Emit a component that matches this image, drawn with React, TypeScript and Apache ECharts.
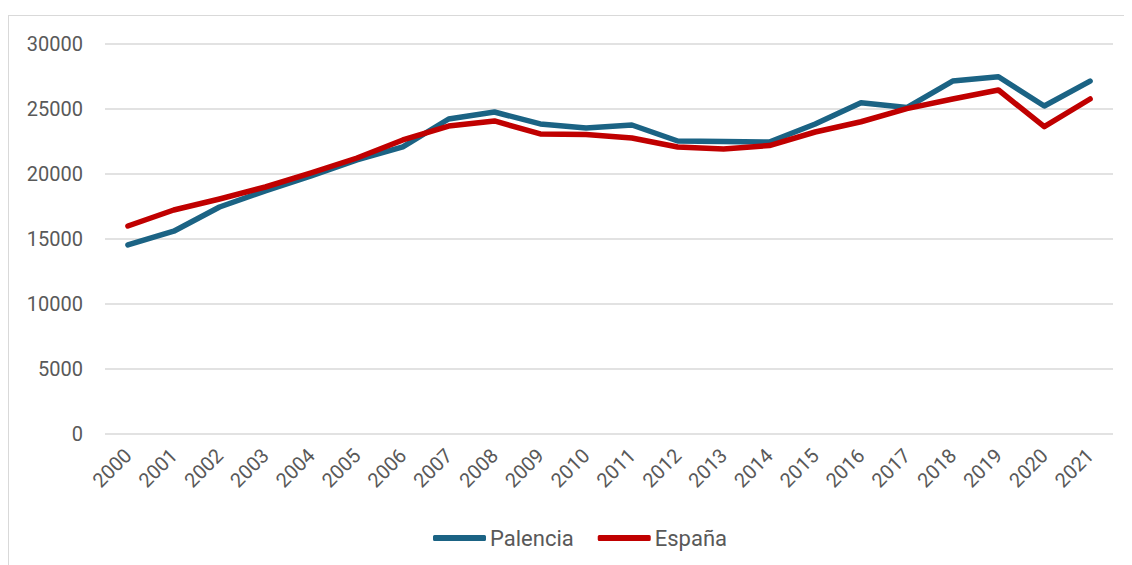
import React, { useEffect, useRef } from "react";
import * as echarts from "echarts";

const years = ["2000","2001","2002","2003","2004","2005","2006","2007","2008","2009","2010","2011","2012","2013","2014","2015","2016","2017","2018","2019","2020","2021"];
const palencia = [14540,15600,17460,18700,19850,21080,22080,24230,24770,23850,23540,23770,22540,22500,22460,23850,25480,25110,27150,27480,25230,27150];
const espana = [16000,17230,18080,19000,20080,21230,22620,23690,24080,23080,23040,22770,22080,21920,22190,23230,24020,25030,25770,26460,23640,25770];
const yTicks = { min: 0, max: 30000, interval: 5000 };

export default function App() {
  const ref = useRef<HTMLDivElement>(null);
  useEffect(() => {
    if (!ref.current) return;
    const chart = echarts.init(ref.current, null, { renderer: "svg" });
    const font = "Roboto, 'Noto Sans', sans-serif";
    chart.setOption({
      animation: false,
      grid: { left: 96, right: 24, top: 28, bottom: 140, containLabel: false },
      legend: {
        data: [
          { name: "Palencia", icon: "roundRect" },
          { name: "España", icon: "roundRect" },
        ],
        bottom: 20,
        left: 419,
        itemWidth: 53,
        itemHeight: 6,
        itemGap: 24,
        textStyle: { color: "#595959", fontSize: 22, fontFamily: font, padding: [0, 0, 0, -1] },
      },
      xAxis: {
        type: "category",
        data: years,
        boundaryGap: true,
        axisLine: { show: false },
        axisTick: { show: false },
        axisLabel: { rotate: 45, color: "#595959", fontSize: 20, fontFamily: font, margin: 18, interval: 0 },
      },
      yAxis: {
        type: "value",
        min: yTicks.min,
        max: yTicks.max,
        interval: yTicks.interval,
        axisLine: { show: false },
        axisTick: { show: false },
        splitLine: { lineStyle: { color: "#d9d9d9", width: 1.5 } },
        axisLabel: { color: "#595959", fontSize: 20, fontFamily: font, margin: 22, formatter: (v: number) => String(v) },
      },
      series: [
        {
          name: "Palencia",
          type: "line",
          data: palencia,
          symbol: "none",
          lineStyle: { color: "#1B6384", width: 5.5, cap: "round", join: "round" },
          itemStyle: { color: "#1B6384" },
        },
        {
          name: "España",
          type: "line",
          data: espana,
          symbol: "none",
          lineStyle: { color: "#C00000", width: 5.5, cap: "round", join: "round" },
          itemStyle: { color: "#C00000" },
        },
      ],
    });
    return () => chart.dispose();
  }, []);
  return (
    <div style={{ marginTop: 7, width: 1124, height: 550, overflow: "hidden" }}>
      <div style={{ width: 1140, height: 570, border: "1px solid #d9d9d9", boxSizing: "border-box", background: "#fff" }}>
        <div ref={ref} style={{ width: 1128, height: 558 }} />
      </div>
    </div>
  );
}
